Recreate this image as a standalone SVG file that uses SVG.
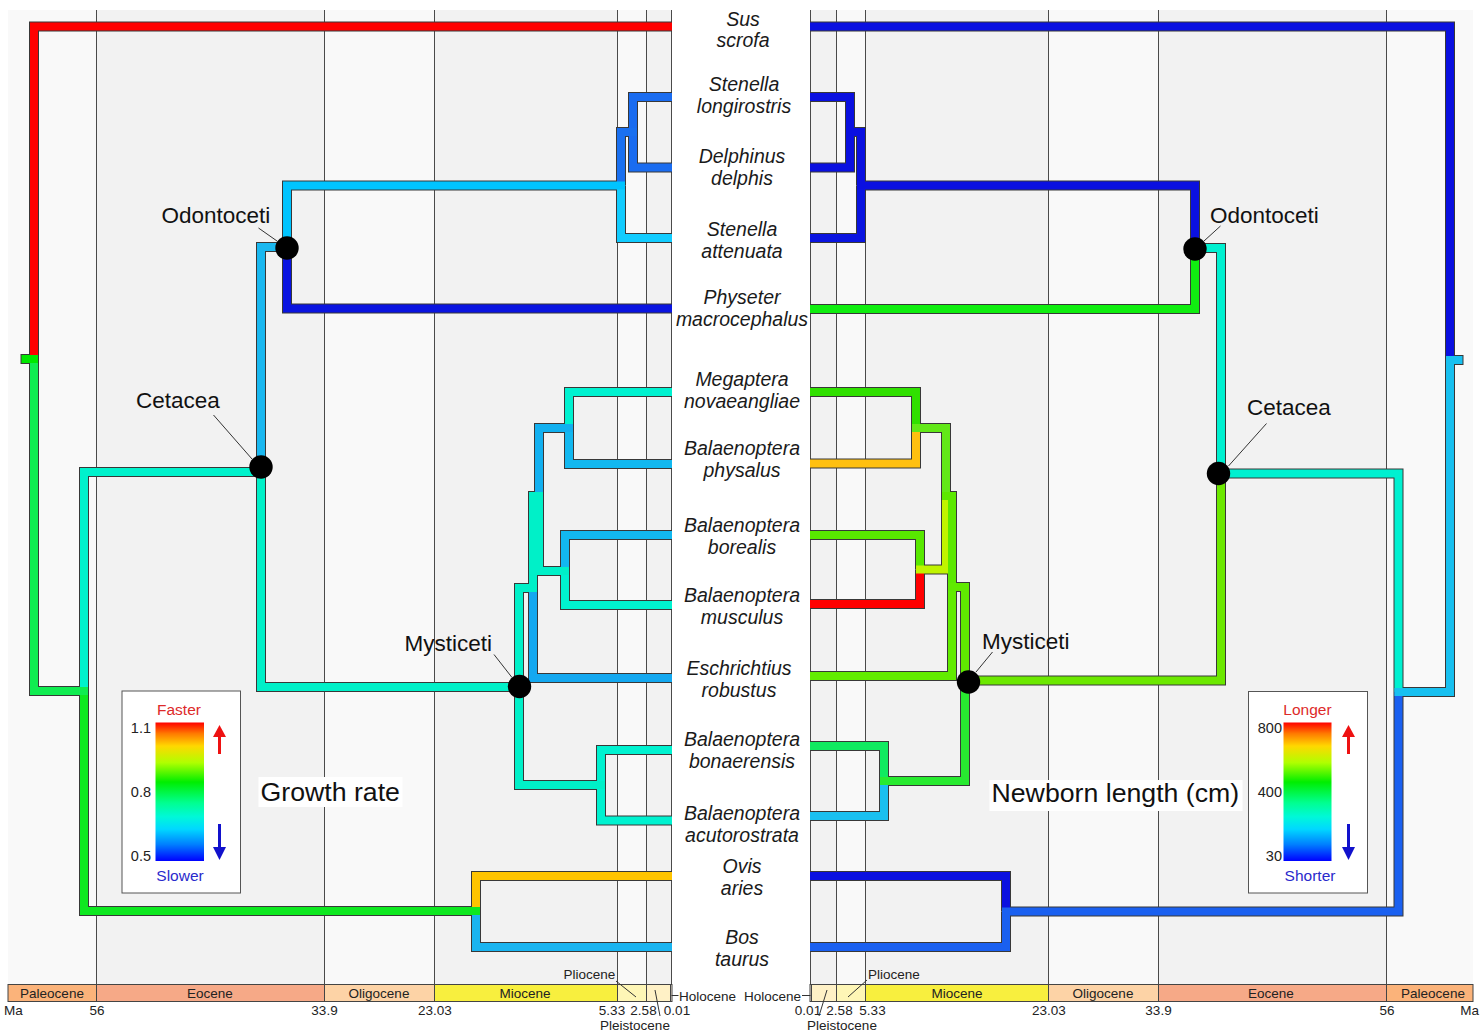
<svg xmlns="http://www.w3.org/2000/svg" width="1481" height="1034" viewBox="0 0 1481 1034">
<style>
.bl{fill:#f9f9f9}.bd{fill:#f2f2f2}
.vl{stroke:#4a4a4a;stroke-width:1}
.ol use{fill:none;stroke:#383838;stroke-width:10;stroke-linejoin:miter}
.br use{fill:none;stroke-width:8;stroke-linejoin:miter}
text{font-family:"Liberation Sans",Arial,sans-serif}
.tip{font-style:italic;font-size:19.5px;fill:#1a1a1a;text-anchor:middle}
.clade{font-size:22.5px;fill:#111}
.lead{stroke:#333;stroke-width:1}
.dot{fill:#000}
.ts{font-size:13.5px;fill:#222}
.tsm{font-size:13.5px;fill:#222;text-anchor:middle}
.seg{stroke:#444;stroke-width:1}
.title{font-size:26.7px;fill:#111}
.lbox{fill:#fff;stroke:#555;stroke-width:1}
.lnum{font-size:14.5px;fill:#222;text-anchor:end}
.lred{font-size:15.5px;fill:#dd2a2a;text-anchor:middle}
.lblue{font-size:15.5px;fill:#2a2acc;text-anchor:middle}
</style>
<defs>
<linearGradient id="rainbow" x1="0" y1="0" x2="0" y2="1">
<stop offset="0" stop-color="#ff0000"/>
<stop offset="0.08" stop-color="#ff7a00"/>
<stop offset="0.17" stop-color="#ffd800"/>
<stop offset="0.29" stop-color="#b0ff00"/>
<stop offset="0.43" stop-color="#00ee00"/>
<stop offset="0.58" stop-color="#00ff90"/>
<stop offset="0.68" stop-color="#00f8d8"/>
<stop offset="0.77" stop-color="#00d8ff"/>
<stop offset="0.88" stop-color="#0080ff"/>
<stop offset="1" stop-color="#0000ff"/>
</linearGradient>
<!-- left tree edges -->
<path id="L_sus" d="M34 359V26.5H672"/>
<path id="L_cr" d="M34 359V691H88"/>
<path id="L_stub" d="M21.5 359H38"/>
<path id="L_ce" d="M84 691V472H265"/>
<path id="L_ru" d="M84 691V911H480"/>
<path id="L_ovis" d="M476 911V876H672"/>
<path id="L_bos" d="M476 911V947H672"/>
<path id="L_od" d="M261 472V247H291"/>
<path id="L_my" d="M261 472V687H524"/>
<path id="L_de" d="M287 247V185.5H625"/>
<path id="L_phy" d="M287 247V308.5H672"/>
<path id="L_di" d="M621 185.5V132H637"/>
<path id="L_att" d="M621 185.5V238H672"/>
<path id="L_lon" d="M633 132V97H672"/>
<path id="L_del" d="M633 132V167.5H672"/>
<path id="L_e" d="M519 687V588H537"/>
<path id="L_mk" d="M519 687V785H605"/>
<path id="L_b" d="M533 588V496H543"/>
<path id="L_esc" d="M533 588V678H672"/>
<path id="L_a" d="M539 496V428H573"/>
<path id="L_c" d="M539 496V571H569"/>
<path id="L_meg" d="M569 428V392H672"/>
<path id="L_phs" d="M569 428V464H672"/>
<path id="L_bor" d="M565 571V535H672"/>
<path id="L_mus" d="M565 571V605H672"/>
<path id="L_bon" d="M601 785V750H672"/>
<path id="L_acu" d="M601 785V820.5H672"/>
<!-- right tree edges -->
<path id="R_sus" d="M1450 360V26.5H810"/>
<path id="R_cr" d="M1450 360V692H1394.5"/>
<path id="R_stub" d="M1462.5 360H1446"/>
<path id="R_ce" d="M1398.5 692V473.5H1217"/>
<path id="R_ru" d="M1398.5 692V911.5H1002"/>
<path id="R_ovis" d="M1006 911.5V876H810"/>
<path id="R_bos" d="M1006 911.5V947H810"/>
<path id="R_od" d="M1221 473.5V248H1191"/>
<path id="R_my" d="M1221 473.5V680.5H961"/>
<path id="R_de" d="M1195 248V185.5H857"/>
<path id="R_phy" d="M1195 248V309H810"/>
<path id="R_di" d="M861 185.5V132H846"/>
<path id="R_att" d="M861 185.5V238H810"/>
<path id="R_lon" d="M850 132V97H810"/>
<path id="R_del" d="M850 132V167.5H810"/>
<path id="R_e" d="M965 680.5V587H948"/>
<path id="R_mk" d="M965 680.5V781H880"/>
<path id="R_b" d="M952 587V496H942"/>
<path id="R_esc" d="M952 587V676H810"/>
<path id="R_a" d="M946 496V428H912"/>
<path id="R_c" d="M946 496V569.5H916"/>
<path id="R_meg" d="M916 428V392H810"/>
<path id="R_phs" d="M916 428V463.5H810"/>
<path id="R_bor" d="M920 569.5V535H810"/>
<path id="R_mus" d="M920 569.5V604H810"/>
<path id="R_bon" d="M884 781V746H810"/>
<path id="R_acu" d="M884 781V816H810"/>
</defs>

<g id="background">
<rect class="bl" x="8" y="10" width="88.5" height="974"/>
<rect class="bd" x="96.5" y="10" width="228" height="974"/>
<rect class="bl" x="324.5" y="10" width="110" height="974"/>
<rect class="bd" x="434.5" y="10" width="183" height="974"/>
<rect class="bl" x="617.5" y="10" width="29" height="974"/>
<rect class="bd" x="646.5" y="10" width="25" height="974"/>
<rect class="bd" x="810.5" y="10" width="26" height="974"/>
<rect class="bl" x="836.5" y="10" width="29" height="974"/>
<rect class="bd" x="865.5" y="10" width="183" height="974"/>
<rect class="bl" x="1048.5" y="10" width="110" height="974"/>
<rect class="bd" x="1158.5" y="10" width="228" height="974"/>
<rect class="bl" x="1386.5" y="10" width="86.5" height="974"/>
<g class="vl">
<line x1="96.5" y1="10" x2="96.5" y2="984"/>
<line x1="324.5" y1="10" x2="324.5" y2="984"/>
<line x1="434.5" y1="10" x2="434.5" y2="984"/>
<line x1="617.5" y1="10" x2="617.5" y2="984"/>
<line x1="646.5" y1="10" x2="646.5" y2="984"/>
<line x1="671.5" y1="10" x2="671.5" y2="984"/>
<line x1="810.5" y1="10" x2="810.5" y2="984"/>
<line x1="836.5" y1="10" x2="836.5" y2="984"/>
<line x1="865.5" y1="10" x2="865.5" y2="984"/>
<line x1="1048.5" y1="10" x2="1048.5" y2="984"/>
<line x1="1158.5" y1="10" x2="1158.5" y2="984"/>
<line x1="1386.5" y1="10" x2="1386.5" y2="984"/>
</g>
</g>

<g id="timescale">
<g class="seg">
<rect x="8" y="984.5" width="88.5" height="17" fill="#fbb37a"/>
<rect x="96.5" y="984.5" width="228" height="17" fill="#f6a987"/>
<rect x="324.5" y="984.5" width="110" height="17" fill="#fdd3a6"/>
<rect x="434.5" y="984.5" width="183" height="17" fill="#f8ef3e"/>
<rect x="617.5" y="984.5" width="29" height="17" fill="#fef6b6"/>
<rect x="646.5" y="984.5" width="24" height="17" fill="#fff1c6"/>
<rect x="670.5" y="984.5" width="1.5" height="17" fill="#fef0e0"/>
<rect x="810" y="984.5" width="1.5" height="17" fill="#fef0e0"/>
<rect x="811.5" y="984.5" width="25" height="17" fill="#fff1c6"/>
<rect x="836.5" y="984.5" width="29" height="17" fill="#fef6b6"/>
<rect x="865.5" y="984.5" width="183" height="17" fill="#f8ef3e"/>
<rect x="1048.5" y="984.5" width="110" height="17" fill="#fdd3a6"/>
<rect x="1158.5" y="984.5" width="228" height="17" fill="#f6a987"/>
<rect x="1386.5" y="984.5" width="86.5" height="17" fill="#fbb37a"/>
</g>
<g class="tsm">
<text x="52" y="997.5">Paleocene</text>
<text x="210" y="997.5">Eocene</text>
<text x="379" y="997.5">Oligocene</text>
<text x="525" y="997.5">Miocene</text>
<text x="957" y="997.5">Miocene</text>
<text x="1103" y="997.5">Oligocene</text>
<text x="1271" y="997.5">Eocene</text>
<text x="1433" y="997.5">Paleocene</text>
<text x="97" y="1015">56</text>
<text x="324.5" y="1015">33.9</text>
<text x="435" y="1015">23.03</text>
<text x="612" y="1015">5.33</text>
<text x="643.5" y="1015">2.58</text>
<text x="677" y="1015">0.01</text>
<text x="808" y="1015">0.01</text>
<text x="839.5" y="1015">2.58</text>
<text x="872.5" y="1015">5.33</text>
<text x="1049" y="1015">23.03</text>
<text x="1158.5" y="1015">33.9</text>
<text x="1387" y="1015">56</text>
<text x="589.5" y="979">Pliocene</text>
<text x="635" y="1030">Pleistocene</text>
<text x="842" y="1030">Pleistocene</text>
</g>
<text class="ts" x="4" y="1015">Ma</text>
<text class="ts" x="1479" y="1015" text-anchor="end">Ma</text>
<text class="ts" x="868" y="979">Pliocene</text>
<text class="ts" x="679" y="1000.5">Holocene</text>
<text class="ts" x="801" y="1000.5" text-anchor="end">Holocene</text>
<g class="lead">
<line x1="616" y1="981" x2="636" y2="997"/>
<line x1="655" y1="990" x2="660" y2="1016"/>
<line x1="671.5" y1="995.5" x2="678.5" y2="995.5"/>
<line x1="867" y1="980" x2="848" y2="997"/>
<line x1="827" y1="990" x2="819" y2="1016"/>
<line x1="802" y1="995.5" x2="810.5" y2="995.5"/>
</g>
</g>

<g id="connectors">
<g class="ol">
<use href="#L_sus"/><use href="#L_cr"/><use href="#L_ce"/><use href="#L_ru"/><use href="#L_ovis"/><use href="#L_bos"/>
<use href="#L_od"/><use href="#L_my"/><use href="#L_de"/><use href="#L_phy"/><use href="#L_di"/><use href="#L_att"/>
<use href="#L_lon"/><use href="#L_del"/><use href="#L_e"/><use href="#L_mk"/><use href="#L_b"/><use href="#L_esc"/>
<use href="#L_a"/><use href="#L_c"/><use href="#L_meg"/><use href="#L_phs"/><use href="#L_bor"/><use href="#L_mus"/>
<use href="#L_bon"/><use href="#L_acu"/>
<path d="M20.5 359H38" fill="none" stroke="#383838" stroke-width="10"/>
<use href="#R_sus"/><use href="#R_cr"/><use href="#R_ce"/><use href="#R_ru"/><use href="#R_ovis"/><use href="#R_bos"/>
<use href="#R_od"/><use href="#R_my"/><use href="#R_de"/><use href="#R_phy"/><use href="#R_di"/><use href="#R_att"/>
<use href="#R_lon"/><use href="#R_del"/><use href="#R_e"/><use href="#R_mk"/><use href="#R_b"/><use href="#R_esc"/>
<use href="#R_a"/><use href="#R_c"/><use href="#R_meg"/><use href="#R_phs"/><use href="#R_bor"/><use href="#R_mus"/>
<use href="#R_bon"/><use href="#R_acu"/>
<path d="M1463.5 360H1446" fill="none" stroke="#383838" stroke-width="10"/>
</g>
<g class="br">
<use href="#L_lon" stroke="#1a6cf0"/>
<use href="#L_del" stroke="#1a6cf0"/>
<use href="#L_att" stroke="#12ccff"/>
<use href="#L_phy" stroke="#0a14e0"/>
<use href="#L_meg" stroke="#00f2d0"/>
<use href="#L_phs" stroke="#12b8f0"/>
<use href="#L_bor" stroke="#12b8f0"/>
<use href="#L_mus" stroke="#00f2d0"/>
<use href="#L_esc" stroke="#14a8f0"/>
<use href="#L_bon" stroke="#00f2d0"/>
<use href="#L_acu" stroke="#00f2d0"/>
<use href="#L_ovis" stroke="#ffc400"/>
<use href="#L_bos" stroke="#1ab4f0"/>
<use href="#L_sus" stroke="#ff0000"/>
<use href="#L_di" stroke="#1a70f0"/>
<use href="#L_de" stroke="#00c4ff"/>
<use href="#L_a" stroke="#12b0f0"/>
<use href="#L_c" stroke="#00f0c8"/>
<use href="#L_b" stroke="#00f0c8"/>
<use href="#L_e" stroke="#00f0c8"/>
<use href="#L_mk" stroke="#00f0c8"/>
<use href="#L_od" stroke="#1ab8f0"/>
<use href="#L_my" stroke="#00f0c8"/>
<use href="#L_ce" stroke="#00f2cc"/>
<use href="#L_ru" stroke="#0ee820"/>
<use href="#L_cr" stroke="#10ec50"/>
<use href="#L_stub" stroke="#00e800"/>
<use href="#R_lon" stroke="#0a10e0"/>
<use href="#R_del" stroke="#0a10e0"/>
<use href="#R_att" stroke="#0a14e0"/>
<use href="#R_phy" stroke="#10ee10"/>
<use href="#R_meg" stroke="#30e000"/>
<use href="#R_phs" stroke="#ffc010"/>
<use href="#R_bor" stroke="#58e800"/>
<use href="#R_mus" stroke="#ff0000"/>
<use href="#R_esc" stroke="#62ec00"/>
<use href="#R_bon" stroke="#10ea60"/>
<use href="#R_acu" stroke="#1ac0f0"/>
<use href="#R_ovis" stroke="#0a10e0"/>
<use href="#R_bos" stroke="#1a60f0"/>
<use href="#R_sus" stroke="#0a10e0"/>
<use href="#R_di" stroke="#0a10e0"/>
<use href="#R_de" stroke="#0a10e0"/>
<use href="#R_a" stroke="#62e818"/>
<use href="#R_c" stroke="#c0f400"/>
<use href="#R_b" stroke="#5ce800"/>
<use href="#R_e" stroke="#60ea00"/>
<use href="#R_mk" stroke="#28ea30"/>
<use href="#R_od" stroke="#00f0d0"/>
<use href="#R_my" stroke="#6ce800"/>
<use href="#R_ce" stroke="#00f0d0"/>
<use href="#R_ru" stroke="#1a60f0"/>
<use href="#R_cr" stroke="#18c0f0"/>
<use href="#R_stub" stroke="#18c0f0"/>
</g>
</g>

<g id="node-odontoceti-left">
<line class="lead" x1="258.5" y1="228" x2="277" y2="241"/>
<circle class="dot" cx="287" cy="248" r="11.7"/>
<text class="clade" x="161.5" y="222.5">Odontoceti</text>
</g>
<g id="node-cetacea-left">
<line class="lead" x1="213.5" y1="415" x2="252" y2="459"/>
<circle class="dot" cx="261" cy="467" r="11.7"/>
<text class="clade" x="136" y="408">Cetacea</text>
</g>
<g id="node-mysticeti-left">
<line class="lead" x1="494" y1="654.5" x2="512" y2="677.5"/>
<circle class="dot" cx="519.5" cy="686.5" r="11.7"/>
<text class="clade" x="404.5" y="651">Mysticeti</text>
</g>
<g id="node-odontoceti-right">
<line class="lead" x1="1220.5" y1="226" x2="1204" y2="241"/>
<circle class="dot" cx="1195" cy="249" r="11.7"/>
<text class="clade" x="1210" y="222.5">Odontoceti</text>
</g>
<g id="node-cetacea-right">
<line class="lead" x1="1266.5" y1="423.5" x2="1228.5" y2="466"/>
<circle class="dot" cx="1218.5" cy="473.5" r="11.7"/>
<text class="clade" x="1247" y="415">Cetacea</text>
</g>
<g id="node-mysticeti-right">
<line class="lead" x1="992.5" y1="652" x2="976" y2="672"/>
<circle class="dot" cx="968.5" cy="682" r="11.7"/>
<text class="clade" x="982" y="648.5">Mysticeti</text>
</g>

<g id="tip-sus"><text class="tip"><tspan x="743" y="26">Sus</tspan><tspan x="743" y="47">scrofa</tspan></text></g>
<g id="tip-stenella-longirostris"><text class="tip"><tspan x="744" y="91">Stenella</tspan><tspan x="744" y="113">longirostris</tspan></text></g>
<g id="tip-delphinus"><text class="tip"><tspan x="742" y="163">Delphinus</tspan><tspan x="742" y="185">delphis</tspan></text></g>
<g id="tip-stenella-attenuata"><text class="tip"><tspan x="742" y="236">Stenella</tspan><tspan x="742" y="258">attenuata</tspan></text></g>
<g id="tip-physeter"><text class="tip"><tspan x="742" y="304">Physeter</tspan><tspan x="742" y="326">macrocephalus</tspan></text></g>
<g id="tip-megaptera"><text class="tip"><tspan x="742" y="386">Megaptera</tspan><tspan x="742" y="408">novaeangliae</tspan></text></g>
<g id="tip-physalus"><text class="tip"><tspan x="742" y="455">Balaenoptera</tspan><tspan x="742" y="477">physalus</tspan></text></g>
<g id="tip-borealis"><text class="tip"><tspan x="742" y="532">Balaenoptera</tspan><tspan x="742" y="554">borealis</tspan></text></g>
<g id="tip-musculus"><text class="tip"><tspan x="742" y="602">Balaenoptera</tspan><tspan x="742" y="624">musculus</tspan></text></g>
<g id="tip-eschrichtius"><text class="tip"><tspan x="739" y="675">Eschrichtius</tspan><tspan x="739" y="697">robustus</tspan></text></g>
<g id="tip-bonaerensis"><text class="tip"><tspan x="742" y="746">Balaenoptera</tspan><tspan x="742" y="768">bonaerensis</tspan></text></g>
<g id="tip-acutorostrata"><text class="tip"><tspan x="742" y="820">Balaenoptera</tspan><tspan x="742" y="842">acutorostrata</tspan></text></g>
<g id="tip-ovis"><text class="tip"><tspan x="742" y="873">Ovis</tspan><tspan x="742" y="895">aries</tspan></text></g>
<g id="tip-bos"><text class="tip"><tspan x="742" y="944">Bos</tspan><tspan x="742" y="966">taurus</tspan></text></g>

<g id="title-growth">
<rect x="258.5" y="777" width="144" height="30" fill="#fff"/>
<text class="title" x="260.5" y="800.5">Growth rate</text>
</g>
<g id="title-newborn">
<rect x="989.5" y="780" width="253" height="31" fill="#fff"/>
<text class="title" x="991.5" y="802">Newborn length (cm)</text>
</g>

<g id="legend-growth">
<rect class="lbox" x="122" y="691" width="118.5" height="202"/>
<rect x="155.5" y="722.5" width="48.5" height="138.5" fill="url(#rainbow)"/>
<text class="lred" x="179" y="714.5">Faster</text>
<text class="lblue" x="180" y="880.5">Slower</text>
<text class="lnum" x="151" y="733">1.1</text>
<text class="lnum" x="151" y="797">0.8</text>
<text class="lnum" x="151" y="861">0.5</text>
<rect x="218" y="736" width="3" height="18" fill="#ee1111"/>
<polygon points="219.5,725 213,737 226,737" fill="#ee1111"/>
<rect x="218" y="824" width="3" height="24" fill="#1111cc"/>
<polygon points="213,847 226,847 219.5,860" fill="#1111cc"/>
</g>
<g id="legend-newborn">
<rect class="lbox" x="1248.5" y="691.5" width="119" height="201.5"/>
<rect x="1283.5" y="722.5" width="48" height="138.5" fill="url(#rainbow)"/>
<text class="lred" x="1307.5" y="714.5">Longer</text>
<text class="lblue" x="1310" y="880.5">Shorter</text>
<text class="lnum" x="1282" y="733">800</text>
<text class="lnum" x="1282" y="797">400</text>
<text class="lnum" x="1282" y="861">30</text>
<rect x="1347" y="736" width="3" height="18" fill="#ee1111"/>
<polygon points="1348.5,725 1342,737 1355,737" fill="#ee1111"/>
<rect x="1347" y="824" width="3" height="24" fill="#1111cc"/>
<polygon points="1342,847 1355,847 1348.5,860" fill="#1111cc"/>
</g>
</svg>
